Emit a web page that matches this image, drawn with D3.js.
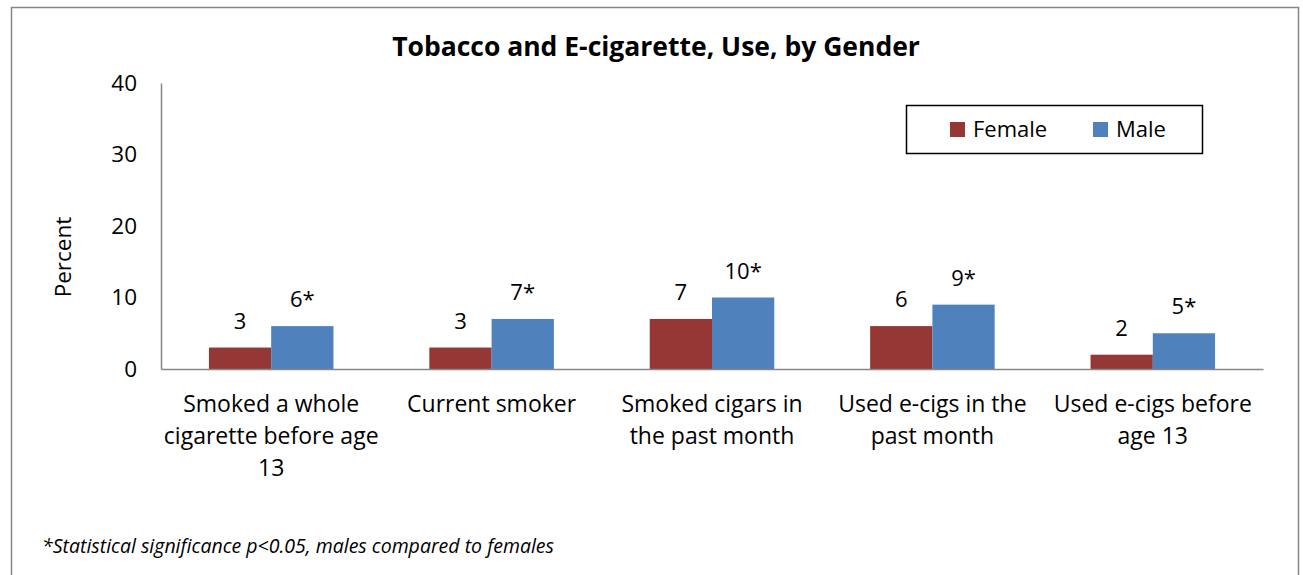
<!DOCTYPE html>
<html>
<head>
<meta charset="utf-8">
<script src="https://cdn.jsdelivr.net/npm/d3@7"></script>
<style>
  html, body { margin: 0; padding: 0; background: #fff; }
  svg { display: block; font-family: "Open Sans", sans-serif; }
</style>
</head>
<body>
<svg id="chart" width="1303" height="575"></svg>
<script>
// Tobacco and e-cigarette use by gender (percent)
const categories = [
  ["Smoked a whole", "cigarette before age", "13"],
  ["Current smoker"],
  ["Smoked cigars in", "the past month"],
  ["Used e-cigs in the", "past month"],
  ["Used e-cigs before", "age 13"]
];
const femaleValues = [3, 3, 7, 6, 2];
const maleValues = [6, 7, 10, 9, 5];
const maleSignificant = [true, true, true, true, true];
const seriesNames = ["Female", "Male"];
const seriesColors = ["#953735", "#4F81BD"];
const yTicks = [0, 10, 20, 30, 40];

const svg = d3.select("#chart");

// outer frame
svg.append("rect")
  .attr("x", 11.5).attr("y", 7.5)
  .attr("width", 1287).attr("height", 580)
  .attr("fill", "#fff").attr("stroke", "#868686").attr("stroke-width", 1.5);

const plot = { left: 161, right: 1263, top: 83, bottom: 369 };

const x0 = d3.scaleBand()
  .domain(d3.range(categories.length))
  .range([plot.left, plot.right])
  .paddingInner(0.435).paddingOuter(0.2175);

const x1 = d3.scaleBand()
  .domain([0, 1])
  .range([0, x0.bandwidth()]);

const y = d3.scaleLinear().domain([0, 40]).range([plot.bottom, plot.top]);

// title
svg.append("text")
  .attr("x", 656).attr("y", 56)
  .attr("text-anchor", "middle")
  .attr("font-weight", "bold")
  .attr("font-size", 26.5)
  .attr("fill", "#000")
  .text("Tobacco and E-cigarette, Use, by Gender");

// y axis
const yAxis = d3.axisLeft(y).tickValues(yTicks).tickSize(0).tickPadding(24);
const gy = svg.append("g").attr("transform", `translate(${plot.left},0)`).call(yAxis);
gy.select(".domain").attr("stroke", "#868686").attr("stroke-width", 1.5);
gy.selectAll("text").attr("font-size", 22.5).attr("fill", "#000").attr("font-family", "'Open Sans', sans-serif");

svg.append("text")
  .attr("transform", `translate(71,257) rotate(-90)`)
  .attr("text-anchor", "middle")
  .attr("font-size", 22.5)
  .attr("fill", "#000")
  .text("Percent");

// bars
const groups = svg.append("g").selectAll("g")
  .data(categories.map((c, i) => ({ i, vals: [femaleValues[i], maleValues[i]] })))
  .join("g")
  .attr("transform", d => `translate(${x0(d.i)},0)`);

groups.selectAll("rect")
  .data(d => d.vals.map((v, s) => ({ v, s, i: d.i })))
  .join("rect")
  .attr("x", d => x1(d.s))
  .attr("y", d => y(d.v))
  .attr("width", x1.bandwidth())
  .attr("height", d => y(0) - y(d.v))
  .attr("fill", d => seriesColors[d.s]);

groups.selectAll("text.val")
  .data(d => d.vals.map((v, s) => ({ v, s, i: d.i })))
  .join("text")
  .attr("class", "val")
  .attr("x", d => x1(d.s) + x1.bandwidth() / 2)
  .attr("y", d => y(d.v) - 19)
  .attr("text-anchor", "middle")
  .attr("font-size", 22)
  .attr("fill", "#000")
  .text(d => d.v + (d.s === 1 && maleSignificant[d.i] ? "*" : ""));

// x axis
const xAxis = d3.axisBottom(x0).tickSize(0).tickFormat("");
const gx = svg.append("g").attr("transform", `translate(0,${plot.bottom})`).call(xAxis);
gx.select(".domain").attr("stroke", "#868686").attr("stroke-width", 1.5);

svg.append("g").selectAll("text")
  .data(categories.map((c, i) => ({ c, i })))
  .join("text")
  .attr("text-anchor", "middle")
  .attr("font-size", 23)
  .attr("fill", "#000")
  .attr("x", d => x0(d.i) + x0.bandwidth() / 2)
  .attr("y", 412)
  .each(function (d) {
    d3.select(this).selectAll("tspan")
      .data(d.c)
      .join("tspan")
      .attr("x", x0(d.i) + x0.bandwidth() / 2)
      .attr("dy", (t, k) => k === 0 ? 0 : 32)
      .text(t => t);
  });

// legend
const legend = svg.append("g");
legend.append("rect")
  .attr("x", 906.5).attr("y", 105.5).attr("width", 296).attr("height", 48)
  .attr("fill", "#fff").attr("stroke", "#000").attr("stroke-width", 1.5);
const legendX = [950, 1093];
seriesNames.forEach((name, s) => {
  legend.append("rect")
    .attr("x", legendX[s]).attr("y", 122).attr("width", 15).attr("height", 15)
    .attr("fill", seriesColors[s]);
  legend.append("text")
    .attr("x", legendX[s] + 23).attr("y", 137)
    .attr("font-size", 22).attr("fill", "#000")
    .text(name);
});

// footnote
svg.append("text")
  .attr("x", 42).attr("y", 553)
  .attr("font-size", 19.5)
  .attr("font-style", "italic")
  .attr("fill", "#000")
  .text("*Statistical significance p<0.05, males compared to females");
</script>
</body>
</html>
